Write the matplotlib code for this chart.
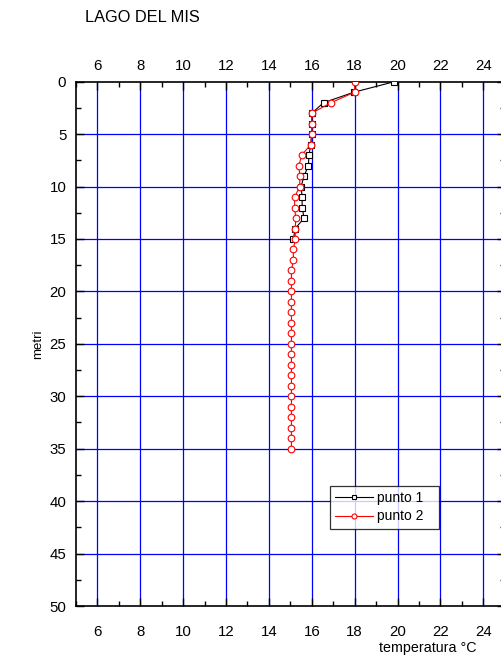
import matplotlib

matplotlib.use("Agg")
import matplotlib.pyplot as plt
from matplotlib.ticker import MultipleLocator

plt.rcParams.update(
    {
        "font.family": ["Liberation Sans", "DejaVu Sans"],
        "font.size": 10,
    }
)

# temperature profiles, depth in metres
depth_1 = list(range(0, 16))
temp_1 = [19.85, 17.97, 16.55, 16.0, 16.0, 16.0, 15.95, 15.87, 15.84,
          15.64, 15.5, 15.55, 15.55, 15.64, 15.23, 15.14]

depth_2 = list(range(0, 36))
temp_2 = [18.0, 18.0, 16.9, 16.0, 16.0, 16.0, 15.95, 15.53, 15.4, 15.44,
          15.44, 15.2, 15.2, 15.25, 15.23, 15.23, 15.14, 15.14] + [15.05] * 18

x_ticks = [6, 8, 10, 12, 14, 16, 18, 20, 22, 24]
y_ticks = [0, 5, 10, 15, 20, 25, 30, 35, 40, 45, 50]

fig = plt.figure(figsize=(5.02, 6.63), dpi=100)
ax = fig.add_axes([76 / 502, 1 - 606 / 663, 428.7 / 502, 524.3 / 663])

for x in x_ticks:
    ax.axvline(x, color="#0000ff", lw=0.9, zorder=1)
for y in y_ticks[1:-1]:
    ax.axhline(y, color="#0000ff", lw=0.9, zorder=1)

ax.plot(temp_1, depth_1, color="black", lw=0.8, marker="s", ms=4.0,
        mfc="white", mec="black", mew=0.8, label="punto 1", zorder=3)
ax.plot(temp_2, depth_2, color="#ff0000", lw=0.8, marker="o", ms=4.8,
        mfc="white", mec="#ff0000", mew=0.8, label="punto 2", zorder=4)

ax.set_xlim(5, 25)
ax.set_ylim(50, 0)
ax.set_xticks(x_ticks)
ax.set_yticks(y_ticks)
ax.xaxis.set_minor_locator(MultipleLocator(1))
ax.yaxis.set_minor_locator(MultipleLocator(2.5))
ax.tick_params(which="both", direction="in", top=True, right=True,
               labeltop=False, width=1.0, labelsize=10.8, color="black")
ax.tick_params(which="major", length=6)
ax.tick_params(which="minor", length=3.5)
ax.tick_params(axis="x", pad=13.5)
ax.tick_params(axis="y", pad=7)
for s in ax.spines.values():
    s.set_linewidth(1.2)

# top labels sit closer to the frame than the bottom ones
top = ax.secondary_xaxis("top")
top.set_xticks(x_ticks)
top.tick_params(length=0, pad=6.5, labelsize=10.8)
top.spines["top"].set_visible(False)

ax.set_ylabel("metri", fontsize=9.5, labelpad=4)

fig.text(85 / 502, 1 - 18 / 663, "LAGO DEL MIS", fontsize=11.8,
         ha="left", va="center")
fig.text(428 / 502, 1 - 648 / 663, "temperatura \u00b0C", fontsize=10.3,
         ha="center", va="center")

leg = ax.legend(loc="lower left", bbox_to_anchor=(0.592, 0.147, 0.255, 0.082),
                mode="expand", fontsize=10, markerscale=0.75,
                frameon=True, fancybox=False, borderpad=0.4, handlelength=2.7,
                handletextpad=0.3, labelspacing=0.3, borderaxespad=0)
leg.get_frame().set_edgecolor("black")
leg.get_frame().set_linewidth(0.9)
leg.set_zorder(10)

fig.savefig("out.png", dpi=100)
